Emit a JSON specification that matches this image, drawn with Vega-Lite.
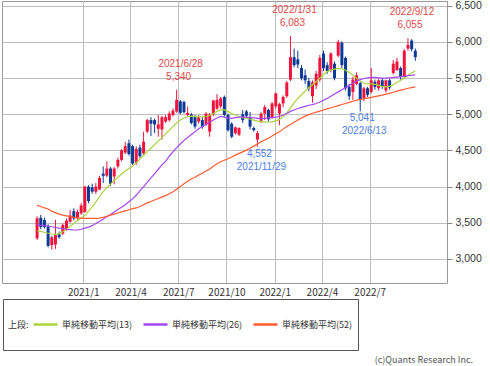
{
"$schema":"https://vega.github.io/schema/vega-lite/v6.json",
"width":445,"height":282,
"autosize":{"type":"none"},
"padding":{"left":2,"top":1,"right":43,"bottom":83},
"background":"white",
"title":{"text":"(c)Quants Research Inc.","orient":"bottom","anchor":"end","frame":"group","fontSize":9,"fontWeight":"normal","color":"#555555","font":"Noto Sans CJK JP","offset":5,"dx":26},
"datasets":{
"weekly":[
{"d":"2020-10-05","o":3285,"h":3590,"l":3260,"c":3561,"m13":3390,"m26":3470,"m52":3740},
{"d":"2020-10-12","o":3570,"h":3610,"l":3410,"c":3440,"m13":3380,"m26":3465,"m52":3725},
{"d":"2020-10-19","o":3540,"h":3570,"l":3420,"c":3440,"m13":3365,"m26":3460,"m52":3705},
{"d":"2020-10-26","o":3450,"h":3480,"l":3160,"c":3180,"m13":3355,"m26":3455,"m52":3690},
{"d":"2020-11-02","o":3190,"h":3320,"l":3130,"c":3300,"m13":3345,"m26":3445,"m52":3660},
{"d":"2020-11-09","o":3200,"h":3540,"l":3140,"c":3330,"m13":3340,"m26":3435,"m52":3640},
{"d":"2020-11-16","o":3340,"h":3380,"l":3280,"c":3300,"m13":3350,"m26":3425,"m52":3620},
{"d":"2020-11-23","o":3350,"h":3490,"l":3330,"c":3470,"m13":3375,"m26":3420,"m52":3605},
{"d":"2020-11-30","o":3400,"h":3560,"l":3390,"c":3530,"m13":3410,"m26":3410,"m52":3595},
{"d":"2020-12-07","o":3515,"h":3680,"l":3500,"c":3600,"m13":3450,"m26":3405,"m52":3585},
{"d":"2020-12-14","o":3660,"h":3700,"l":3530,"c":3560,"m13":3490,"m26":3400,"m52":3575},
{"d":"2020-12-21","o":3570,"h":3680,"l":3540,"c":3650,"m13":3530,"m26":3400,"m52":3568},
{"d":"2020-12-28","o":3630,"h":3770,"l":3610,"c":3740,"m13":3565,"m26":3410,"m52":3562},
{"d":"2021-01-04","o":3650,"h":4010,"l":3640,"c":4000,"m13":3600,"m26":3425,"m52":3560},
{"d":"2021-01-11","o":4000,"h":4020,"l":3770,"c":3800,"m13":3660,"m26":3440,"m52":3560},
{"d":"2021-01-18","o":3990,"h":4040,"l":3900,"c":3930,"m13":3720,"m26":3460,"m52":3560},
{"d":"2021-01-25","o":3930,"h":4050,"l":3900,"c":4000,"m13":3790,"m26":3490,"m52":3562},
{"d":"2021-02-01","o":3960,"h":4150,"l":3950,"c":4120,"m13":3860,"m26":3520,"m52":3565},
{"d":"2021-02-08","o":4180,"h":4280,"l":4050,"c":4150,"m13":3930,"m26":3550,"m52":3575},
{"d":"2021-02-15","o":4150,"h":4350,"l":4130,"c":4250,"m13":3985,"m26":3585,"m52":3590},
{"d":"2021-02-22","o":4250,"h":4270,"l":4010,"c":4040,"m13":4035,"m26":3615,"m52":3605},
{"d":"2021-03-01","o":4140,"h":4270,"l":4030,"c":4250,"m13":4085,"m26":3650,"m52":3620},
{"d":"2021-03-08","o":4280,"h":4400,"l":4250,"c":4370,"m13":4130,"m26":3685,"m52":3635},
{"d":"2021-03-15","o":4370,"h":4520,"l":4350,"c":4500,"m13":4175,"m26":3715,"m52":3650},
{"d":"2021-03-22","o":4470,"h":4620,"l":4450,"c":4560,"m13":4215,"m26":3750,"m52":3665},
{"d":"2021-03-29","o":4600,"h":4650,"l":4430,"c":4450,"m13":4250,"m26":3790,"m52":3680},
{"d":"2021-04-05","o":4560,"h":4580,"l":4300,"c":4320,"m13":4280,"m26":3830,"m52":3695},
{"d":"2021-04-12","o":4330,"h":4560,"l":4300,"c":4520,"m13":4330,"m26":3880,"m52":3705},
{"d":"2021-04-19","o":4540,"h":4580,"l":4390,"c":4420,"m13":4380,"m26":3940,"m52":3725},
{"d":"2021-04-26","o":4460,"h":4760,"l":4440,"c":4620,"m13":4430,"m26":4000,"m52":3750},
{"d":"2021-05-03","o":4760,"h":4940,"l":4740,"c":4920,"m13":4480,"m26":4060,"m52":3775},
{"d":"2021-05-10","o":4920,"h":4960,"l":4700,"c":4870,"m13":4530,"m26":4120,"m52":3795},
{"d":"2021-05-17","o":4920,"h":4940,"l":4740,"c":4860,"m13":4580,"m26":4180,"m52":3815},
{"d":"2021-05-24","o":4800,"h":4990,"l":4690,"c":4860,"m13":4630,"m26":4240,"m52":3835},
{"d":"2021-05-31","o":4790,"h":4980,"l":4650,"c":4960,"m13":4680,"m26":4300,"m52":3855},
{"d":"2021-06-07","o":4900,"h":4990,"l":4880,"c":4960,"m13":4730,"m26":4350,"m52":3875},
{"d":"2021-06-14","o":4920,"h":5040,"l":4900,"c":5010,"m13":4780,"m26":4420,"m52":3900},
{"d":"2021-06-21","o":4990,"h":5080,"l":4970,"c":5050,"m13":4830,"m26":4480,"m52":3930},
{"d":"2021-06-28","o":5040,"h":5340,"l":5020,"c":5200,"m13":4880,"m26":4540,"m52":3965},
{"d":"2021-07-05","o":5180,"h":5200,"l":5000,"c":5020,"m13":4920,"m26":4590,"m52":4000},
{"d":"2021-07-12","o":5170,"h":5190,"l":5010,"c":5030,"m13":4950,"m26":4640,"m52":4040},
{"d":"2021-07-19","o":4990,"h":5110,"l":4960,"c":5020,"m13":4970,"m26":4680,"m52":4075},
{"d":"2021-07-26","o":5000,"h":5020,"l":4860,"c":4880,"m13":4975,"m26":4720,"m52":4105},
{"d":"2021-08-02","o":4960,"h":4990,"l":4800,"c":4830,"m13":4970,"m26":4760,"m52":4130},
{"d":"2021-08-09","o":4900,"h":4990,"l":4870,"c":4960,"m13":4965,"m26":4800,"m52":4160},
{"d":"2021-08-16","o":4920,"h":4960,"l":4800,"c":4830,"m13":4965,"m26":4830,"m52":4185},
{"d":"2021-08-23","o":4860,"h":5030,"l":4840,"c":5010,"m13":4970,"m26":4860,"m52":4215},
{"d":"2021-08-30","o":4760,"h":5020,"l":4690,"c":5000,"m13":4985,"m26":4890,"m52":4245},
{"d":"2021-09-06","o":5000,"h":5200,"l":4980,"c":5190,"m13":5010,"m26":4920,"m52":4280},
{"d":"2021-09-13","o":5080,"h":5280,"l":5060,"c":5200,"m13":5040,"m26":4950,"m52":4315},
{"d":"2021-09-20","o":5110,"h":5240,"l":5080,"c":5220,"m13":5060,"m26":4970,"m52":4345},
{"d":"2021-09-27","o":5240,"h":5260,"l":4970,"c":4990,"m13":5060,"m26":4960,"m52":4365},
{"d":"2021-10-04","o":4990,"h":5010,"l":4760,"c":4780,"m13":5040,"m26":4950,"m52":4385},
{"d":"2021-10-11","o":4870,"h":4890,"l":4670,"c":4690,"m13":5010,"m26":4945,"m52":4410},
{"d":"2021-10-18","o":4740,"h":4830,"l":4720,"c":4820,"m13":4990,"m26":4955,"m52":4435},
{"d":"2021-10-25","o":4720,"h":4820,"l":4700,"c":4810,"m13":4970,"m26":4960,"m52":4460},
{"d":"2021-11-01","o":5000,"h":5060,"l":4880,"c":4920,"m13":4955,"m26":4960,"m52":4480},
{"d":"2021-11-08","o":5040,"h":5060,"l":4950,"c":4980,"m13":4945,"m26":4960,"m52":4505},
{"d":"2021-11-15","o":4960,"h":5030,"l":4790,"c":4830,"m13":4935,"m26":4955,"m52":4530},
{"d":"2021-11-22","o":4810,"h":4830,"l":4760,"c":4780,"m13":4920,"m26":4950,"m52":4560},
{"d":"2021-11-29","o":4650,"h":4770,"l":4552,"c":4740,"m13":4905,"m26":4945,"m52":4590},
{"d":"2021-12-06","o":4910,"h":5030,"l":4880,"c":5010,"m13":4900,"m26":4945,"m52":4620},
{"d":"2021-12-13","o":5010,"h":5130,"l":4920,"c":5100,"m13":4895,"m26":4945,"m52":4645},
{"d":"2021-12-20","o":5060,"h":5080,"l":4900,"c":4930,"m13":4890,"m26":4950,"m52":4670},
{"d":"2021-12-27","o":4960,"h":5170,"l":4940,"c":5150,"m13":4895,"m26":4955,"m52":4700},
{"d":"2022-01-03","o":5110,"h":5300,"l":5080,"c":5290,"m13":4910,"m26":4960,"m52":4730},
{"d":"2022-01-10","o":5010,"h":5160,"l":4850,"c":5140,"m13":4930,"m26":4970,"m52":4760},
{"d":"2022-01-17","o":5150,"h":5260,"l":5100,"c":5240,"m13":4970,"m26":4990,"m52":4795},
{"d":"2022-01-24","o":5250,"h":5460,"l":5230,"c":5440,"m13":5020,"m26":5010,"m52":4830},
{"d":"2022-01-31","o":5480,"h":6083,"l":5460,"c":5790,"m13":5090,"m26":5040,"m52":4860},
{"d":"2022-02-07","o":5790,"h":5910,"l":5650,"c":5680,"m13":5160,"m26":5060,"m52":4890},
{"d":"2022-02-14","o":5760,"h":5880,"l":5640,"c":5690,"m13":5220,"m26":5080,"m52":4920},
{"d":"2022-02-21","o":5640,"h":5680,"l":5470,"c":5500,"m13":5270,"m26":5095,"m52":4950},
{"d":"2022-02-28","o":5540,"h":5620,"l":5420,"c":5470,"m13":5320,"m26":5110,"m52":4975},
{"d":"2022-03-07","o":5460,"h":5500,"l":5320,"c":5360,"m13":5370,"m26":5125,"m52":4995},
{"d":"2022-03-14","o":5250,"h":5470,"l":5160,"c":5440,"m13":5410,"m26":5135,"m52":5015},
{"d":"2022-03-21","o":5400,"h":5600,"l":5350,"c":5560,"m13":5450,"m26":5150,"m52":5030},
{"d":"2022-03-28","o":5480,"h":5820,"l":5450,"c":5780,"m13":5500,"m26":5170,"m52":5045},
{"d":"2022-04-04","o":5840,"h":5880,"l":5600,"c":5640,"m13":5550,"m26":5195,"m52":5060},
{"d":"2022-04-11","o":5680,"h":5720,"l":5560,"c":5600,"m13":5590,"m26":5220,"m52":5075},
{"d":"2022-04-18","o":5620,"h":5860,"l":5580,"c":5840,"m13":5610,"m26":5250,"m52":5090},
{"d":"2022-04-25","o":5700,"h":5730,"l":5470,"c":5500,"m13":5625,"m26":5280,"m52":5105},
{"d":"2022-05-02","o":5810,"h":6030,"l":5790,"c":6000,"m13":5635,"m26":5310,"m52":5120},
{"d":"2022-05-09","o":5990,"h":6010,"l":5640,"c":5680,"m13":5630,"m26":5340,"m52":5135},
{"d":"2022-05-16","o":5780,"h":5800,"l":5330,"c":5360,"m13":5610,"m26":5370,"m52":5150},
{"d":"2022-05-23","o":5380,"h":5420,"l":5200,"c":5250,"m13":5580,"m26":5400,"m52":5165},
{"d":"2022-05-30","o":5310,"h":5520,"l":5200,"c":5480,"m13":5540,"m26":5430,"m52":5180},
{"d":"2022-06-06","o":5420,"h":5580,"l":5400,"c":5540,"m13":5500,"m26":5460,"m52":5195},
{"d":"2022-06-13","o":5430,"h":5450,"l":5041,"c":5200,"m13":5460,"m26":5480,"m52":5205},
{"d":"2022-06-20","o":5220,"h":5380,"l":5180,"c":5360,"m13":5430,"m26":5495,"m52":5215},
{"d":"2022-06-27","o":5360,"h":5380,"l":5240,"c":5270,"m13":5420,"m26":5505,"m52":5225},
{"d":"2022-07-04","o":5310,"h":5640,"l":5290,"c":5470,"m13":5420,"m26":5510,"m52":5235},
{"d":"2022-07-11","o":5450,"h":5480,"l":5340,"c":5380,"m13":5415,"m26":5510,"m52":5245},
{"d":"2022-07-18","o":5360,"h":5490,"l":5330,"c":5470,"m13":5400,"m26":5505,"m52":5255},
{"d":"2022-07-25","o":5470,"h":5500,"l":5350,"c":5380,"m13":5385,"m26":5500,"m52":5265},
{"d":"2022-08-01","o":5330,"h":5480,"l":5300,"c":5470,"m13":5380,"m26":5500,"m52":5280},
{"d":"2022-08-08","o":5470,"h":5490,"l":5340,"c":5370,"m13":5390,"m26":5505,"m52":5290},
{"d":"2022-08-15","o":5570,"h":5750,"l":5550,"c":5700,"m13":5410,"m26":5510,"m52":5305},
{"d":"2022-08-22","o":5610,"h":5780,"l":5600,"c":5730,"m13":5440,"m26":5515,"m52":5320},
{"d":"2022-08-29","o":5640,"h":5660,"l":5480,"c":5520,"m13":5470,"m26":5520,"m52":5335},
{"d":"2022-09-05","o":5520,"h":5900,"l":5500,"c":5880,"m13":5500,"m26":5525,"m52":5345},
{"d":"2022-09-12","o":5910,"h":6055,"l":5880,"c":5960,"m13":5540,"m26":5535,"m52":5360},
{"d":"2022-09-19","o":6020,"h":6040,"l":5870,"c":5900,"m13":5570,"m26":5540,"m52":5370},
{"d":"2022-09-26","o":5880,"h":5910,"l":5740,"c":5790,"m13":5600,"m26":5545,"m52":5380}
],
"notes":[
{"d":"2021-06-28","p":5340,"t1":"2021/6/28","t2":"5,340","k":"hi"},
{"d":"2022-01-31","p":6083,"t1":"2022/1/31","t2":"6,083","k":"hi"},
{"d":"2022-09-12","p":6055,"t1":"2022/9/12","t2":"6,055","k":"hi"},
{"d":"2021-11-29","p":4552,"t1":"2021/11/29","t2":"4,552","k":"lo"},
{"d":"2022-06-13","p":5041,"t1":"2022/6/13","t2":"5,041","k":"lo"}
]
},
"data":{"name":"weekly"},
"encoding":{
"x":{"field":"d","type":"temporal","title":null,
"scale":{"type":"utc","nice":false,"domain":[{"year":2020,"month":8,"date":8,"hours":15,"utc":true},{"year":2022,"month":11,"date":15,"hours":21,"utc":true}]},
"axis":{"values":[{"year":2021,"month":1,"date":1,"utc":true},{"year":2021,"month":4,"date":1,"utc":true},{"year":2021,"month":7,"date":1,"utc":true},{"year":2021,"month":10,"date":1,"utc":true},{"year":2022,"month":1,"date":1,"utc":true},{"year":2022,"month":4,"date":1,"utc":true},{"year":2022,"month":7,"date":1,"utc":true}],
"labelExpr":"utcFormat(datum.value, '%Y/%-m')","grid":true,"ticks":false,"domain":false,"labelPadding":4,"labelOverlap":false,"labelFlush":false}}
},
"layer":[
{"mark":{"type":"rule","strokeWidth":1},
 "encoding":{
  "y":{"field":"l","type":"quantitative","title":null,"scale":{"domain":[2667,6567],"nice":false,"zero":false},
   "axis":{"orient":"right","values":[3000,3500,4000,4500,5000,5500,6000,6500],"labelExpr":"format(datum.value, ',.0f')","grid":true,"ticks":true,"tickSize":5,"tickColor":"#888888","domain":false,"labelPadding":3,"labelFont":"Liberation Sans","labelFontSize":10.5}},
  "y2":{"field":"h"},
  "color":{"condition":{"test":"datum.c >= datum.o","value":"#f0143c"},"value":"#0d3a96"}}},
{"mark":{"type":"bar","size":3},
 "encoding":{
  "y":{"field":"o","type":"quantitative","title":null},
  "y2":{"field":"c"},
  "color":{"condition":{"test":"datum.c >= datum.o","value":"#f0143c"},"value":"#0d3a96"}}},
{"mark":{"type":"line","strokeWidth":1.2},
 "encoding":{"y":{"field":"m13","type":"quantitative","title":null},
  "color":{"datum":"単純移動平均(13)","type":"nominal",
   "scale":{"domain":["単純移動平均(13)","単純移動平均(26)","単純移動平均(52)"],"range":["#a8d43c","#a546f5","#ff5a2e"]},
   "legend":{"orient":"none","legendX":1,"legendY":298,"direction":"horizontal","title":"上段:","titleOrient":"left","titleAnchor":"middle","titleBaseline":"middle","titlePadding":3,"titleFontSize":9,"titleFontWeight":"normal","titleColor":"#333333","titleFont":"Noto Sans CJK JP",
    "symbolType":"stroke","symbolSize":576,"symbolStrokeWidth":2.5,"labelOffset":3,"labelFontSize":9,"labelColor":"#333333","labelFont":"Noto Sans CJK JP","columnPadding":9,"padding":5,"clipHeight":41,"strokeColor":"#555555",
    "labelExpr":"datum.label == '単純移動平均(52)' ? datum.label + '　　　　　　　　　　　　　　' : datum.label"}}}},
{"mark":{"type":"line","strokeWidth":1.2},
 "encoding":{"y":{"field":"m26","type":"quantitative","title":null},"color":{"datum":"単純移動平均(26)","type":"nominal"}}},
{"mark":{"type":"line","strokeWidth":1.2},
 "encoding":{"y":{"field":"m52","type":"quantitative","title":null},"color":{"datum":"単純移動平均(52)","type":"nominal"}}},
{"data":{"name":"notes"},"transform":[{"filter":"datum.k == 'hi'"}],
 "mark":{"type":"text","color":"#e0474a","fontSize":10,"font":"Liberation Sans","dy":-26,"dx":4,"baseline":"middle"},
 "encoding":{"y":{"field":"p","type":"quantitative","title":null},"text":{"field":"t1"}}},
{"data":{"name":"notes"},"transform":[{"filter":"datum.k == 'hi'"}],
 "mark":{"type":"text","color":"#e0474a","fontSize":10,"font":"Liberation Sans","dy":-13,"dx":2,"baseline":"middle"},
 "encoding":{"y":{"field":"p","type":"quantitative","title":null},"text":{"field":"t2"}}},
{"data":{"name":"notes"},"transform":[{"filter":"datum.k == 'lo'"}],
 "mark":{"type":"text","color":"#4a7ee6","fontSize":10,"font":"Liberation Sans","dy":7,"dx":2,"baseline":"middle"},
 "encoding":{"y":{"field":"p","type":"quantitative","title":null},"text":{"field":"t2"}}},
{"data":{"name":"notes"},"transform":[{"filter":"datum.k == 'lo'"}],
 "mark":{"type":"text","color":"#4a7ee6","fontSize":10,"font":"Liberation Sans","dy":20,"dx":4,"baseline":"middle"},
 "encoding":{"y":{"field":"p","type":"quantitative","title":null},"text":{"field":"t1"}}}
],
"config":{
"font":"Noto Sans CJK JP",
"view":{"stroke":"#9a9a9a","strokeWidth":1},
"axis":{"gridColor":"#bdbdbd","gridWidth":1,"labelFontSize":10,"labelColor":"#333333","labelFont":"Noto Sans CJK JP"}
}
}
